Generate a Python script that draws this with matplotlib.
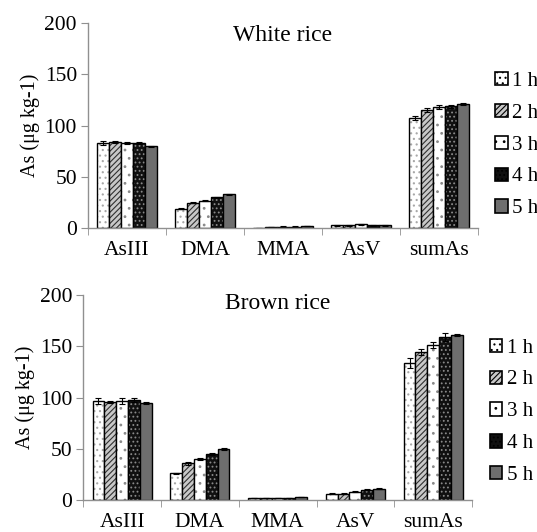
import numpy as np
import matplotlib
matplotlib.use("Agg")
import matplotlib.pyplot as plt
from matplotlib.patches import Patch

plt.rcParams['font.family'] = ['Liberation Serif', 'DejaVu Serif']
plt.rcParams['hatch.linewidth'] = 0.8

# Data
species = ['AsIII', 'DMA', 'MMA', 'AsV', 'sumAs']
times = ['1 h', '2 h', '3 h', '4 h', '5 h']

white_vals = [
    [83, 19, 0.5, 3, 107],
    [84, 25, 1.0, 3, 115],
    [83, 27, 1.5, 4, 118],
    [83, 30, 1.5, 3, 119],
    [80, 33, 2.0, 3, 121],
]
white_err = [
    [1.5, 0.5, 0.2, 0.5, 2],
    [1.0, 0.5, 0.2, 0.5, 2],
    [1.0, 0.5, 0.2, 0.5, 2],
    [1.0, 0.5, 0.2, 0.5, 1.5],
    [0.5, 0.5, 0.2, 0.5, 1.0],
]
brown_vals = [
    [97, 26, 2, 6, 134],
    [96, 36, 2, 6, 144],
    [97, 40, 2, 8, 151],
    [98, 45, 2, 10, 159],
    [95, 50, 3, 11, 161],
]
brown_err = [
    [3, 0.5, 0.3, 0.5, 5],
    [1, 1.5, 0.3, 0.5, 3],
    [3, 1.0, 0.3, 0.5, 3],
    [2, 1.0, 0.3, 0.5, 4],
    [1, 1.0, 0.3, 0.5, 1],
]

# bar styles: (facecolor, hatchcolor, hatch)
styles = [
    ('white', '#a8a8a8', '...'),
    ('#c8c8c8', '#303030', '//////'),
    ('white', '#8a8a8a', '..'),
    ('#101010', '#8a8a8a', '....'),
    ('#6e6e6e', '#6e6e6e', ''),
]

fig = plt.figure(figsize=(5.37, 5.32), dpi=100)
ax1 = fig.add_axes([0.164, 0.571, 0.726, 0.386])
ax2 = fig.add_axes([0.155, 0.060, 0.724, 0.3855])

width = 0.152
x = np.arange(len(species))


def draw(ax, vals, errs, title, title_y, leg_x, leg_y):
    for i in range(len(times)):
        fc, hc, h = styles[i]
        pos = x + (i - 2) * width
        ax.bar(pos, vals[i], width, color=fc, edgecolor=hc, hatch=h, linewidth=0)
        ax.bar(pos, vals[i], width, fill=False, edgecolor='black', linewidth=1.0)
        ax.errorbar(pos, vals[i], yerr=errs[i], fmt='none', ecolor='black',
                    elinewidth=0.8, capsize=2.5, capthick=0.8)
    ax.set_xlim(-0.5, len(species) - 0.5)
    ax.set_ylim(0, 200)
    ax.set_yticks([0, 50, 100, 150, 200])
    ax.set_xticks(x)
    ax.set_xticklabels(species)
    ax.set_xticks(np.arange(-0.5, len(species)), minor=True)
    ax.tick_params(axis='x', which='major', length=0, labelsize=15.5, pad=9)
    ax.tick_params(axis='x', which='minor', length=5, color='#909090', direction='out')
    ax.tick_params(axis='y', length=5, color='#909090', labelsize=15.5, pad=3)
    for s in ['top', 'right']:
        ax.spines[s].set_visible(False)
    for s in ['left', 'bottom']:
        ax.spines[s].set_color('#909090')
        ax.spines[s].set_linewidth(1.0)
    ax.set_ylabel('As (\u03bcg kg-1)', fontsize=14.5, labelpad=3)
    ax.text(0.5, title_y, title, transform=ax.transAxes, ha='center', va='center',
            fontsize=17)
    handles = []
    for i in range(len(times)):
        fc, hc, h = styles[i]
        handles.append(Patch(facecolor=fc, edgecolor='black', hatch=h, linewidth=1.2))
    ax.legend(handles, times, loc='center left', bbox_to_anchor=(leg_x, leg_y),
              frameon=False, fontsize=15, handlelength=0.6, handleheight=0.6,
              handletextpad=0.2, labelspacing=0.62, borderaxespad=0, borderpad=0)


draw(ax1, white_vals, white_err, 'White rice', 0.938, 1.044, 0.405)
draw(ax2, brown_vals, brown_err, 'Brown rice', 0.96, 1.046, 0.43)

fig.savefig('out.png', dpi=100)
